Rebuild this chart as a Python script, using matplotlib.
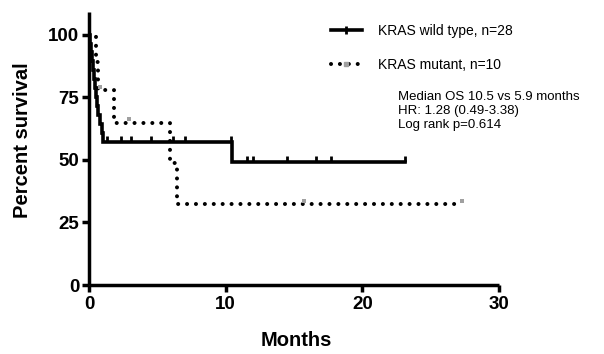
import numpy as np
import matplotlib
matplotlib.use("Agg")
import matplotlib.pyplot as plt
from matplotlib.lines import Line2D

plt.rcParams['font.family'] = ['Liberation Sans', 'DejaVu Sans']

# KRAS wild type (n=28): step times (months) and survival (%) after each step
wt_times = [0.0, 0.07, 0.14, 0.21, 0.28, 0.35, 0.42, 0.5, 0.58, 0.66, 0.8, 0.95, 1.0, 10.45, 23.1]
wt_surv = [100, 96.4, 92.9, 89.3, 85.7, 82.1, 78.6, 75.0, 71.4, 67.9, 64.3, 60.7, 57.1, 49.0, 49.0]
wt_censor = [1.3, 2.35, 3.05, 4.5, 6.15, 7.0, 10.4, 11.55, 12.0, 14.5, 16.6, 17.7, 23.1]

# KRAS mutant (n=10)
mut_times = [0.0, 0.5, 0.65, 1.85, 5.9, 6.45, 27.3]
mut_surv = [100, 88.9, 77.8, 64.8, 48.6, 32.4, 32.4]
mut_censor = [0.83, 2.9, 15.7, 27.3]

labels = ['KRAS wild type, n=28', 'KRAS mutant, n=10']
stats_lines = ['Median OS 10.5 vs 5.9 months', 'HR: 1.28 (0.49-3.38)', 'Log rank p=0.614']
x_ticks = [0, 10, 20, 30]
y_ticks = [0, 25, 50, 75, 100]


def surv_at(times, surv, t):
    # value of the step function at time t
    idx = np.searchsorted(times, t, side='right') - 1
    return np.array(surv)[idx]


fig = plt.figure(figsize=(6.04, 3.54), dpi=100)
ax = fig.add_axes([89 / 604, 1 - 285 / 354, 410 / 604, 273 / 354])

dotted = (0, (0.01, 2.2))

ax.plot(wt_times, wt_surv, drawstyle='steps-post', color='black', lw=2.6,
        solid_joinstyle='miter')
wt_c = surv_at(wt_times, wt_surv, wt_censor)
ax.plot(wt_censor, wt_c + 1.2, ls='none', marker='|', ms=5, mew=2, color='black')

ax.plot(mut_times, mut_surv, drawstyle='steps-post', color='black', lw=2.9,
        ls=dotted, dash_capstyle='round')
mut_c = surv_at(mut_times, mut_surv, mut_censor)
ax.plot(mut_censor, mut_c + 1.3, ls='none', marker='s', ms=2.8, color='#a0a0a0', mew=0)

ax.set_xlim(0, 30)
ax.set_ylim(0, 109)
ax.set_xticks(x_ticks)
ax.set_yticks(y_ticks)
for s in ['top', 'right']:
    ax.spines[s].set_visible(False)
for s in ['left', 'bottom']:
    ax.spines[s].set_linewidth(2.5)
    ax.spines[s].set_capstyle('butt')
ax.tick_params(width=2.5, length=5, labelsize=13.5)
ax.tick_params(axis='x', pad=3)
ax.tick_params(axis='y', pad=2)
for lab in ax.get_xticklabels() + ax.get_yticklabels():
    lab.set_fontweight('bold')

ax.set_xlabel('Months', fontsize=14.5, fontweight='bold', va='center')
ax.xaxis.set_label_coords(0.505, -(341 - 285) / 273)
ax.set_ylabel('Percent survival', fontsize=14.5, fontweight='bold', va='center')
ax.yaxis.set_label_coords(-(89 - 23) / 410, (285 - 140) / 273)

handles = [
    Line2D([], [], color='black', lw=2.6, marker='|', ms=6, mew=2),
    Line2D([], [], color='black', lw=2.9, ls=dotted, dash_capstyle='round',
           marker='s', ms=2.8, mfc='#a0a0a0', mec='#a0a0a0'),
]
fig.legend(handles, labels, loc='upper left', bbox_to_anchor=(331 / 604, 1 - 24 / 354),
           frameon=False, fontsize=10, handlelength=2.2, handletextpad=1.2,
           labelspacing=1.45, borderpad=0, borderaxespad=0)

for i, line in enumerate(stats_lines):
    fig.text(398 / 604, 1 - (97 + 14 * i) / 354, line, fontsize=9.5, va='center', ha='left')

fig.savefig('out.png', dpi=100)
